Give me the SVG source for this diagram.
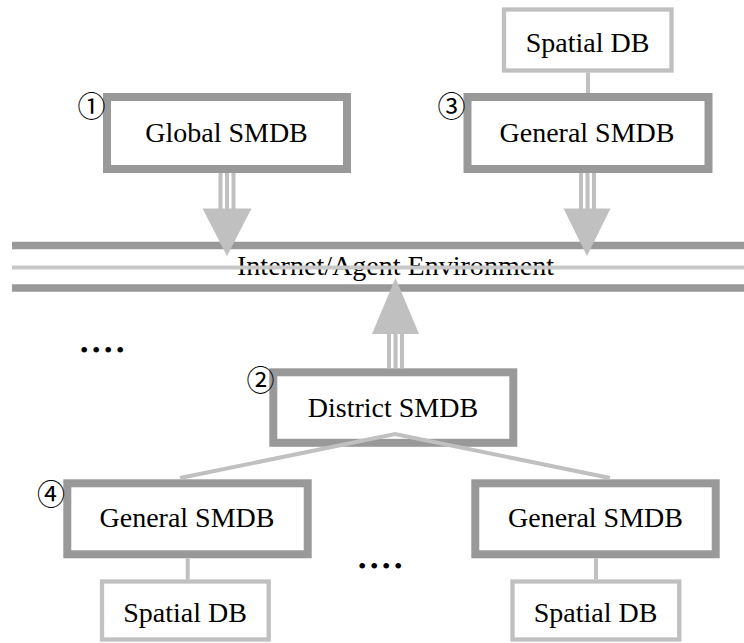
<svg xmlns="http://www.w3.org/2000/svg" width="744" height="643" viewBox="0 0 744 643">
<style>
.smdb{fill:#fff;stroke:#999;stroke-width:8}
.sdb{fill:#fff;stroke:#c0c0c0;stroke-width:4.3}
.lbl{font-family:"Liberation Serif","Times New Roman",serif;font-size:28px;fill:#000;stroke:none;text-anchor:middle}
.num{font-family:"Noto Sans CJK JP",sans-serif;font-size:28px;fill:#000;stroke:none;text-anchor:middle}
.con{stroke:#c0c0c0;stroke-width:4;fill:none}
.bus{stroke:#999;stroke-width:7.5}
.head{fill:#c0c0c0}
.stem{fill:#c0c0c0}
</style>
<defs>
<g id="stem">
<rect class="stem" x="0" y="0" width="4" height="1"/>
<rect class="stem" x="6.5" y="0" width="4" height="1"/>
<rect class="stem" x="13" y="0" width="4" height="1"/>
</g>
</defs>
<rect x="0" y="0" width="744" height="643" fill="#fff"/>
<g id="bus">
<line class="bus" x1="12" y1="245.5" x2="744" y2="245.5"/>
<line class="bus" x1="12" y1="288" x2="744" y2="288"/>
<text class="lbl" x="395.5" y="275" textLength="317" lengthAdjust="spacingAndGlyphs">Internet/Agent Environment</text>
<line x1="12" y1="267.5" x2="744" y2="267.5" stroke="#c8c8c8" stroke-width="4"/>
</g>
<g id="global-smdb">
<rect class="smdb" x="107" y="97" width="240" height="72"/>
<text class="lbl" x="226.5" y="142">Global SMDB</text>
<text class="num" x="91.5" y="117">①</text>
</g>
<g id="spatial-db-top">
<rect class="sdb" x="504" y="9.5" width="167.5" height="61"/>
<text class="lbl" x="587.5" y="52">Spatial DB</text>
</g>
<g id="general-smdb-top">
<rect class="smdb" x="467.5" y="97" width="241" height="72"/>
<text class="lbl" x="587" y="142">General SMDB</text>
<text class="num" x="451.5" y="117">③</text>
</g>
<g id="district-smdb">
<rect class="smdb" x="273.3" y="372.3" width="240" height="70.5"/>
<text class="lbl" x="393" y="417">District SMDB</text>
<text class="num" x="260.5" y="391">②</text>
</g>
<g id="general-smdb-left">
<rect class="smdb" x="67.3" y="483.3" width="240.4" height="71"/>
<text class="lbl" x="187" y="527">General SMDB</text>
<text class="num" x="51" y="505">④</text>
</g>
<g id="general-smdb-right">
<rect class="smdb" x="475.3" y="483.3" width="240.4" height="71"/>
<text class="lbl" x="595.5" y="527">General SMDB</text>
</g>
<g id="spatial-db-left">
<rect class="sdb" x="102" y="581.5" width="166.7" height="58"/>
<text class="lbl" x="185" y="622">Spatial DB</text>
</g>
<g id="spatial-db-right">
<rect class="sdb" x="512.5" y="581.5" width="166.8" height="58"/>
<text class="lbl" x="595.5" y="622">Spatial DB</text>
</g>
<g id="connectors">
<line class="con" x1="588" y1="72.5" x2="588" y2="93"/>
<line class="con" x1="187.7" y1="558.3" x2="187.7" y2="579.4"/>
<line class="con" x1="596" y1="558.3" x2="596" y2="579.4"/>
<polyline class="con" points="180,478 395,434 610,478"/>
<use href="#stem" transform="translate(218.5,173) scale(1,36)"/>
<polygon class="head" points="202.5,208.5 251.5,208.5 227,256"/>
<use href="#stem" transform="translate(579,173) scale(1,36)"/>
<polygon class="head" points="563.5,208.5 610.5,208.5 587,256"/>
<use href="#stem" transform="translate(387,333) scale(1,35.3)"/>
<polygon class="head" points="372,334 419,334 395.5,278"/>
</g>
<g id="dots">
<text x="80" y="358" font-family="Liberation Serif, serif" font-size="24" letter-spacing="3.6">••••</text>
<text x="358" y="574" font-family="Liberation Serif, serif" font-size="24" letter-spacing="3.6">••••</text>
</g>
</svg>
